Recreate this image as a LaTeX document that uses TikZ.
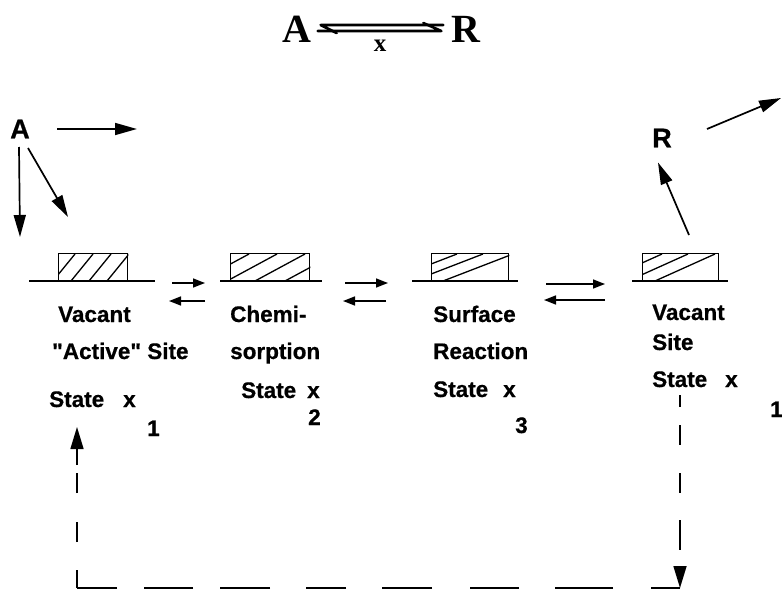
\documentclass[tikz,border=0pt]{standalone}
\usepackage{fontspec}
\setmainfont{Liberation Sans}[BoldFont={Liberation Sans Bold}, BoldFeatures={FakeBold=0.6}, Ligatures=TeXOff]
\newfontfamily\titlefont{Liberation Serif}[BoldFont={Liberation Serif Bold}]
\usetikzlibrary{arrows.meta}

\begin{document}
\begin{tikzpicture}[x=1pt,y=-1pt,
  lbl/.style={font=\bfseries\fontsize{22.5}{26}\selectfont, anchor=base west, inner sep=0pt},
  spc/.style={font=\bfseries\fontsize{27}{31}\selectfont, inner sep=0pt},
  ttl/.style={font=\titlefont\bfseries\fontsize{40}{44}\selectfont, inner sep=0pt},
  big/.style={-{Triangle[length=22pt,width=12pt]}, line width=1.7pt},
  small/.style={-{Triangle[length=12pt,width=9pt]}, line width=1.5pt},
  surf/.style={line width=1.3pt},
  sitebox/.style={draw, line width=1.3pt, anchor=south west, inner sep=0pt, minimum height=27pt},
  hatch/.style={line width=1.3pt},
  loopline/.style={line width=1.6pt},
  loophead/.style={-{Triangle[length=22pt,width=13pt]}, line width=1.6pt},
  harp/.style={line width=2.6pt, line cap=round, line join=round}
]
\useasboundingbox (0,0) rectangle (782,589);

% ---- overall reaction A <=> R ----
\node[ttl] (tA) at (297,29) {A};
\node[ttl] (tR) at (466,29) {R};
\node[font=\titlefont\bfseries\fontsize{25}{29}\selectfont, inner sep=0pt] (tx) at (380,46) {x};
\draw[harp] ([xshift=6pt,yshift=-2pt]tA.east) -- ([xshift=-10pt,yshift=-2pt]tR.west) -- ++(-18,-8);
\draw[harp] ([xshift=-8pt,yshift=4pt]tR.west) -- ([xshift=9pt,yshift=4pt]tA.east) -- ++(16,8);

% ---- reactant A arriving ----
\node[spc] (A) at (20,129) {A};
\coordinate (aRs) at (57,129);  \coordinate (aR) at (137,129);
\coordinate (aDs) at (19,147);  \coordinate (aD) at (20,237);
\coordinate (aSs) at (28,148);  \coordinate (aS) at (68,217);
\draw[big] (aRs) -- (aR);
\draw[big] (aDs) -- (aD);
\draw[big] (aSs) -- (aS);

% ---- surface lines ----
\draw[surf] (29,281) -- (155,281);
\draw[surf] (220,281) -- (322,281);
\draw[surf] (412,281) -- (518,281);
\draw[surf] (632,281) -- (728,281);

% ---- sites ----
\node[sitebox, minimum width=69pt] (b1) at (58,281) {};
\node[sitebox, minimum width=79pt] (b2) at (230,281) {};
\node[sitebox, minimum width=77pt] (b3) at (431,281) {};
\node[sitebox, minimum width=76pt] (b4) at (642,281) {};

\begin{scope}
  \clip (b1.south west) rectangle (b1.north east);
  \foreach \x in {-5,13,31,49}
    \draw[hatch] ([xshift=\x pt]b1.south west) -- ++(22,-27);
\end{scope}
\begin{scope}
  \clip (b2.south west) rectangle (b2.north east);
  \foreach \x in {-31,-3,25,55}
    \draw[hatch] ([xshift=\x pt]b2.south west) -- ++(50,-27);
\end{scope}
\begin{scope}
  \clip (b3.south west) rectangle (b3.north east);
  \foreach \x in {-44,-18,12}
    \draw[hatch] ([xshift=\x pt]b3.south west) -- ++(70,-27);
\end{scope}
\begin{scope}
  \clip (b4.south west) rectangle (b4.north east);
  \foreach \x in {-40,-14,13}
    \draw[hatch] ([xshift=\x pt]b4.south west) -- ++(60,-27);
\end{scope}

% ---- equilibrium arrows between the states ----
\coordinate (f1a) at (172,283); \coordinate (f1b) at (205,283);
\coordinate (r1a) at (205,301); \coordinate (r1b) at (169,301);
\coordinate (f2a) at (345,283); \coordinate (f2b) at (388,283);
\coordinate (r2a) at (386,301); \coordinate (r2b) at (343,301);
\coordinate (f3a) at (546,284); \coordinate (f3b) at (605,284);
\coordinate (r3a) at (605,300); \coordinate (r3b) at (544,300);
\draw[small] (f1a) -- (f1b);
\draw[small] (r1a) -- (r1b);
\draw[small] (f2a) -- (f2b);
\draw[small] (r2a) -- (r2b);
\draw[small] (f3a) -- (f3b);
\draw[small] (r3a) -- (r3b);

% ---- state labels ----
\node[lbl] (l1a) at (58,322) {Vacant};
\node[lbl] (l1b) at (52,359) {"Active" Site};
\node[lbl] (l1c) at (49,407) {State};
\node[lbl] (l1x) at (123,407) {x};
\node[lbl] (l1n) at (147,436) {1};

\node[lbl] (l2a) at (230,322) {Chemi-};
\node[lbl] (l2b) at (230,359) {sorption};
\node[lbl] (l2c) at (241,398) {State};
\node[lbl] (l2x) at (307,398) {x};
\node[lbl] (l2n) at (308,425) {2};

\node[lbl] (l3a) at (433,322) {Surface};
\node[lbl] (l3b) at (433,359) {Reaction};
\node[lbl] (l3c) at (433,397) {State};
\node[lbl] (l3x) at (503,397) {x};
\node[lbl] (l3n) at (515,433) {3};

\node[lbl] (l4a) at (652,320) {Vacant};
\node[lbl] (l4b) at (652,350) {Site};
\node[lbl] (l4c) at (652,387) {State};
\node[lbl] (l4x) at (725,387) {x};
\node[lbl] (l4n) at (770,417) {1};

% ---- product R leaving ----
\node[spc] (R) at (662,138) {R};
\coordinate (rT) at (689,235);
\draw[big] (rT) -- ([xshift=-4pt,yshift=-15pt]R.south);
\coordinate (oA) at (707,129);
\coordinate (oB) at (781,98);
\draw[big] (oA) -- (oB);

% ---- regeneration of the vacant site ----
\coordinate (d1) at (680,395);
\coordinate (d2) at (680,588);
\coordinate (d3) at (77,588);
\coordinate (d4) at (77,427);
\draw[loophead, dash pattern=on 12pt off 18pt on 20pt off 28pt on 20pt off 27pt on 30pt off 100pt] (d1) -- (d2);
\draw[loopline, dash pattern=on 29pt off 38pt on 58pt off 36pt on 49pt off 38pt on 50pt off 36pt on 40pt off 36pt on 50pt off 27pt on 49pt off 27pt on 45pt off 20pt] (d2) -- (d3);
\draw[loophead, dash pattern=on 18pt off 28pt on 20pt off 29pt on 20pt off 8pt on 40pt off 10pt] (d3) -- (d4);
\end{tikzpicture}
\end{document}
